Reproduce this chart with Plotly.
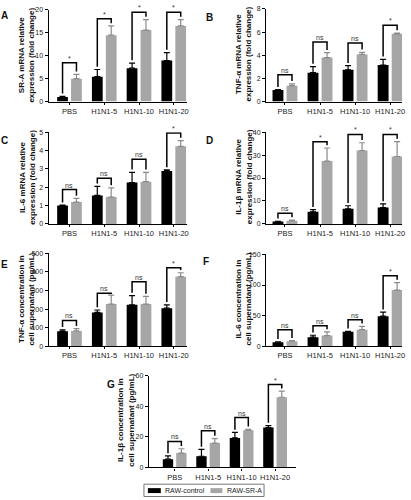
import plotly.graph_objects as go

W, H = 411, 500

categories = ["PBS", "H1N1-5", "H1N1-10", "H1N1-20"]
series_names = ["RAW-control", "RAW-SR-A"]

# Panel A: SR-A mRNA
A_ctrl = [1.0, 5.45, 7.3, 8.95]
A_ctrl_err = [0.15, 1.55, 1.1, 1.75]
A_sra = [5.0, 14.5, 15.6, 16.5]
A_sra_err = [0.95, 2.0, 2.3, 1.4]
A_brk = [8.5, 18.1, 19.5, 19.5]
A_sig = ["*", "*", "*", "*"]

# Panel B: TNF-a mRNA
B_ctrl = [1.0, 2.5, 2.75, 3.15]
B_ctrl_err = [0.03, 0.52, 0.35, 0.5]
B_sra = [1.38, 3.8, 4.07, 5.85]
B_sra_err = [0.15, 0.42, 0.18, 0.06]
B_brk = [2.32, 5.14, 5.06, 6.6]
B_sig = ["ns", "ns", "ns", "*"]

# Panel C: IL-6 mRNA
C_ctrl = [1.0, 1.55, 2.25, 2.88]
C_ctrl_err = [0.02, 0.5, 0.56, 0.06]
C_sra = [1.19, 1.46, 2.3, 4.23]
C_sra_err = [0.2, 0.5, 0.51, 0.31]
C_brk = [1.87, 2.49, 3.52, 4.95]
C_sig = ["ns", "ns", "ns", "*"]

# Panel D: IL-1b mRNA
D_ctrl = [1.0, 5.3, 6.6, 7.1]
D_ctrl_err = [0.1, 0.9, 1.3, 1.6]
D_sra = [1.4, 27.4, 32.0, 29.4]
D_sra_err = [0.3, 5.7, 3.4, 6.5]
D_brk = [4.6, 35.8, 39.0, 39.0]
D_sig = ["ns", "*", "*", "*"]

# Panel E: TNF-a concentration
E_ctrl = [80, 182, 223, 205]
E_ctrl_err = [8, 13, 50, 18]
E_sra = [82, 227, 227, 375]
E_sra_err = [12, 48, 41, 21]
E_brk = [139, 286, 348, 423]
E_sig = ["ns", "ns", "ns", "*"]

# Panel F: IL-6 concentration
F_ctrl = [6.5, 14.6, 23.7, 49.0]
F_ctrl_err = [0.5, 3.2, 0.6, 6.6]
F_sra = [8.0, 17.3, 27.0, 91.7]
F_sra_err = [1.0, 5.9, 5.4, 12.3]
F_brk = [27, 33.5, 43, 115]
F_sig = ["ns", "ns", "ns", "*"]

# Panel G: IL-1b concentration
G_ctrl = [5.4, 7.3, 19.3, 26.1]
G_ctrl_err = [2.1, 4.5, 3.6, 1.3]
G_sra = [9.4, 15.9, 24.4, 45.9]
G_sra_err = [2.8, 3.0, 0.5, 4.0]
G_brk = [17, 24, 32.6, 54.2]
G_sig = ["ns", "ns", "ns", "*"]

FONT = "Arial, Liberation Sans, sans-serif"
C_CTRL = "#000000"
C_SRA = "#a6a6a6"
C_SRA_ERR = "#8a8a8a"

def px(x):
    return x / W

def py(y):
    return 1 - y / H

panels = [
    dict(letter="A", title="SR-A mRNA relative<br>expression (fold change)",
         ymax=20, dtick=5, dom=(49, 188, 6, 99), xr=(-0.6, 3.37), tx=27, lxy=(5, 4),
         ctrl=A_ctrl, ce=A_ctrl_err, sra=A_sra, se=A_sra_err, brk=A_brk, sig=A_sig),
    dict(letter="B", title="TNF-α mRNA relative<br>expression (fold change)",
         ymax=8, dtick=2, dom=(268, 405, 5, 99), xr=(-0.54, 3.34), tx=245, lxy=(211, 6),
         ctrl=B_ctrl, ce=B_ctrl_err, sra=B_sra, se=B_sra_err, brk=B_brk, sig=B_sig),
    dict(letter="C", title="IL-6 mRNA relative<br>expression (fold change)",
         ymax=5, dtick=1, dom=(49, 188, 130, 223), xr=(-0.6, 3.37), tx=27, lxy=(5, 131),
         ctrl=C_ctrl, ce=C_ctrl_err, sra=C_sra, se=C_sra_err, brk=C_brk, sig=C_sig),
    dict(letter="D", title="IL-1β mRNA relative<br>expression (fold change)",
         ymax=40, dtick=10, dom=(268, 405, 130, 223), xr=(-0.54, 3.34), tx=245, lxy=(211, 131),
         ctrl=D_ctrl, ce=D_ctrl_err, sra=D_sra, se=D_sra_err, brk=D_brk, sig=D_sig),
    dict(letter="E", title="TNF-α concentration in<br>cell supernatant (pg/mL)",
         ymax=500, dtick=100, dom=(49, 188, 253, 347), xr=(-0.6, 3.37), tx=27, lxy=(5, 257),
         ctrl=E_ctrl, ce=E_ctrl_err, sra=E_sra, se=E_sra_err, brk=E_brk, sig=E_sig),
    dict(letter="F", title="IL-6 concentration in<br>cell supernatant (pg/mL)",
         ymax=150, dtick=50, dom=(268, 405, 254, 347), xr=(-0.54, 3.34), tx=245, lxy=(208, 254),
         ctrl=F_ctrl, ce=F_ctrl_err, sra=F_sra, se=F_sra_err, brk=F_brk, sig=F_sig),
    dict(letter="G", title="IL-1β concentration in<br>cell supernatant (pg/mL)",
         ymax=60, dtick=20, dom=(150, 298, 377, 470), xr=(-0.77, 3.62), tx=127, lxy=(112, 378),
         ctrl=G_ctrl, ce=G_ctrl_err, sra=G_sra, se=G_sra_err, brk=G_brk, sig=G_sig),
]

OFF = 0.2
BW = 0.31

fig = go.Figure()
layout = dict(width=W, height=H, margin=dict(l=0, r=0, t=0, b=0),
              paper_bgcolor="white", plot_bgcolor="white", showlegend=False,
              barmode="overlay", font=dict(family=FONT, color="#222"))
annotations = []
shapes = []

for n, p in enumerate(panels, start=1):
    xa = "x" if n == 1 else f"x{n}"
    ya = "y" if n == 1 else f"y{n}"
    idx = list(range(len(categories)))
    xc = [i - OFF for i in idx]
    xs = [i + OFF for i in idx]
    fig.add_trace(go.Bar(x=xc, y=p["ctrl"], width=BW, marker=dict(color=C_CTRL, line=dict(width=0)),
                         error_y=dict(type="data", array=p["ce"], arrayminus=[0] * 4, symmetric=False,
                                      color=C_CTRL, thickness=1.2, width=3),
                         xaxis=xa, yaxis=ya, name=series_names[0]))
    fig.add_trace(go.Bar(x=xs, y=p["sra"], width=BW, marker=dict(color=C_SRA, line=dict(width=0)),
                         error_y=dict(type="data", array=p["se"], arrayminus=[0] * 4, symmetric=False,
                                      color=C_SRA_ERR, thickness=1.2, width=3),
                         xaxis=xa, yaxis=ya, name=series_names[1]))
    # significance brackets
    gap = 0.03 * p["ymax"]
    bx, by = [], []
    for i in idx:
        tc = p["ctrl"][i] + p["ce"][i] + gap
        ts = p["sra"][i] + p["se"][i] + gap
        h = p["brk"][i]
        bx += [xc[i], xc[i], xs[i], xs[i], None]
        by += [tc, h, h, ts, None]
        annotations.append(dict(text=p["sig"][i], x=i, y=h, xref=xa, yref=ya, showarrow=False,
                                xanchor="center", yanchor="bottom", yshift=-1,
                                font=dict(size=7, family=FONT, color="#333")))
    fig.add_trace(go.Scatter(x=bx, y=by, mode="lines", line=dict(color="black", width=1.5),
                             xaxis=xa, yaxis=ya, cliponaxis=False, hoverinfo="skip"))
    x0, x1, y0, y1 = p["dom"]
    key = "" if n == 1 else str(n)
    layout["xaxis" + key] = dict(domain=[px(x0), px(x1)], anchor=ya, range=list(p["xr"]),
                                 tickvals=idx, ticktext=categories, showline=True, linecolor="black",
                                 linewidth=1.2, ticks="outside", ticklen=2, tickwidth=1, tickcolor="black",
                                 showgrid=False, zeroline=False,
                                 tickfont=dict(size=7.5, family=FONT, color="#222"), fixedrange=True)
    layout["yaxis" + key] = dict(domain=[py(y1), py(y0)], anchor=xa, range=[0, p["ymax"]],
                                 dtick=p["dtick"], tick0=0, showline=True, linecolor="black",
                                 linewidth=1.2, ticks="outside", ticklen=3, tickwidth=1, tickcolor="black",
                                 showgrid=False, zeroline=False,
                                 tickfont=dict(size=7, family=FONT, color="#222"), fixedrange=True)
    annotations.append(dict(text="<b>" + p["title"].replace("<br>", "</b><br><b>") + "</b>",
                            x=px(p["tx"]), y=py((y0 + y1) / 2 - 1), xref="paper", yref="paper",
                            textangle=-90, showarrow=False, xanchor="center", yanchor="middle",
                            font=dict(size=8, family=FONT, color="#111"), align="center"))
    annotations.append(dict(text="<b>" + p["letter"] + "</b>", x=px(p["lxy"][0]), y=py(p["lxy"][1]),
                            xref="paper", yref="paper", showarrow=False, xanchor="center", yanchor="top",
                            font=dict(size=10, family=FONT, color="#111")))

# legend box
shapes.append(dict(type="rect", xref="paper", yref="paper", x0=px(145), x1=px(266), y0=py(499.5), y1=py(487),
                   line=dict(color="#777", width=1), fillcolor="white"))
shapes.append(dict(type="rect", xref="paper", yref="paper", x0=px(149), x1=px(162), y0=py(496), y1=py(491),
                   line=dict(width=0), fillcolor=C_CTRL))
shapes.append(dict(type="rect", xref="paper", yref="paper", x0=px(212), x1=px(224), y0=py(496), y1=py(491),
                   line=dict(width=0), fillcolor=C_SRA))
annotations.append(dict(text=series_names[0], x=px(164), y=py(493.5), xref="paper", yref="paper",
                        showarrow=False, xanchor="left", yanchor="middle",
                        font=dict(size=7, family=FONT, color="#222")))
annotations.append(dict(text=series_names[1], x=px(227), y=py(493.5), xref="paper", yref="paper",
                        showarrow=False, xanchor="left", yanchor="middle",
                        font=dict(size=7, family=FONT, color="#222")))

layout["annotations"] = annotations
layout["shapes"] = shapes
fig.update_layout(**layout)
fig.write_html("out.html", config={"displayModeBar": False},
               post_script="document.body.style.margin='0';document.body.style.padding='0';document.body.style.overflow='hidden';")
